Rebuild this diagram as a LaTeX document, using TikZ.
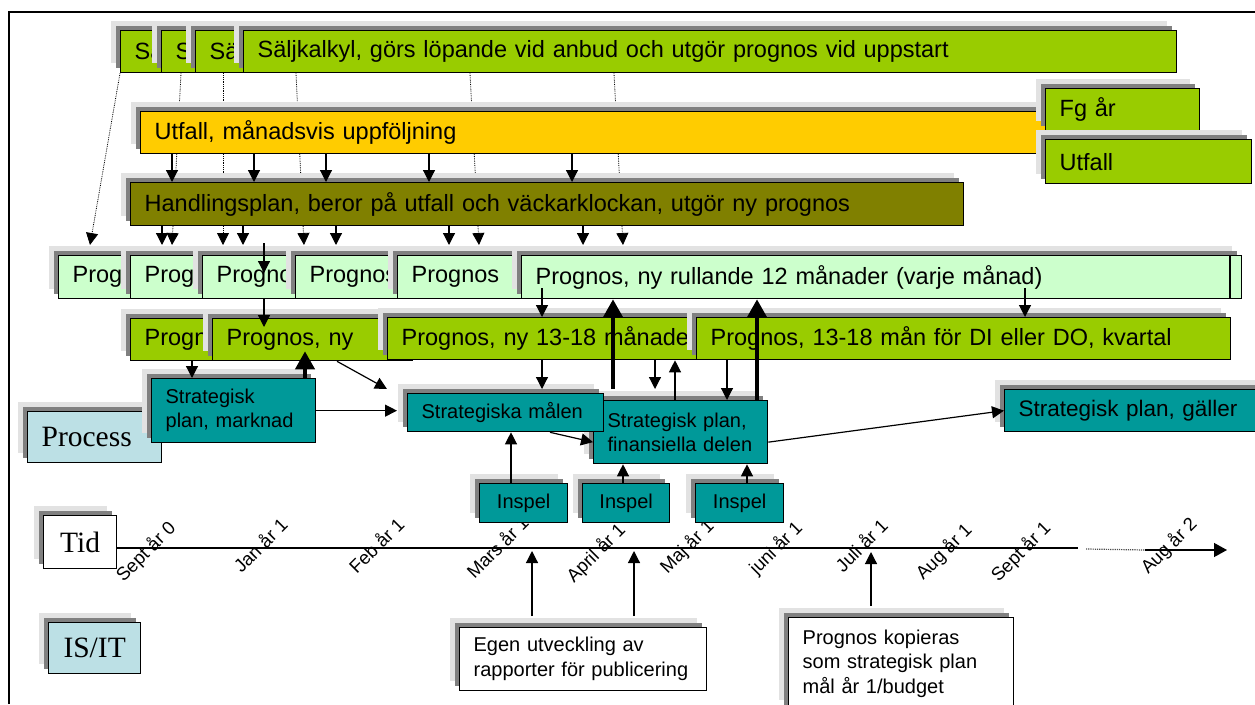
\documentclass[tikz,border=0pt]{standalone}
\usepackage{fontspec}
\setmainfont{Liberation Sans}
\newfontfamily\serifface{Liberation Serif}
\usetikzlibrary{arrows.meta,shadows,calc}
\pgfdeclarelayer{back}
\pgfsetlayers{back,main}

\definecolor{cgreen}{HTML}{99CC00}
\definecolor{corange}{HTML}{FFCC00}
\definecolor{colive}{HTML}{808000}
\definecolor{cpale}{HTML}{CCFFCC}
\definecolor{cteal}{HTML}{009999}
\definecolor{cblue}{HTML}{BCE0E5}
\definecolor{shadedark}{HTML}{808080}
\definecolor{shadelight}{HTML}{E2E2E2}

\newcommand\fontA{\fontsize{23.5}{28}\selectfont}
\newcommand\fontB{\fontsize{20}{24}\selectfont}
\newcommand\fontC{\fontsize{18.5}{22}\selectfont}
\newcommand\fontD{\fontsize{22.5}{27}\selectfont}
\newcommand\fontS{\serifface\fontsize{29.5}{34}\selectfont}

\begin{document}
\begin{tikzpicture}[x=1pt,y=-1pt,
  twoshadows/.style={
    general shadow={fill=shadelight, draw=none, opacity=1, shadow xshift=-10pt, shadow yshift=10pt},
    general shadow={fill=shadedark, draw=none, opacity=1, shadow xshift=-5pt, shadow yshift=5pt}},
  box/.style={twoshadows, draw=black, line width=1.3pt, anchor=north west,
    inner xsep=14pt, inner ysep=0pt, align=left, text=black},
  bigbox/.style={box, font=\fontA, minimum height=43pt},
  smallbox/.style={box, font=\fontB},
  labelbox/.style={box, font=\fontS, align=center, inner xsep=10pt},
  arr/.style={-{Triangle[length=12pt,width=12pt]}, line width=1.2pt},
  tarr/.style={-{Triangle[length=18pt,width=19pt]}, line width=4pt},
  darr/.style={densely dotted, line width=0.8pt, -{Triangle[length=12pt,width=12pt]}},
  tlab/.style={rotate=45, font=\fontC, inner sep=0pt, text height=13pt, text depth=4pt}
]
\useasboundingbox (0,0) rectangle (1255,704);

% outer frame
\draw[line width=1.3pt] (9,704) -- (9,12) -- (1255,12);

% sales calculation row (each new box overlaps the previous one)
\node[bigbox, fill=cgreen, text width=1022pt, minimum height=42pt] (s1) at (120,30) {Sä};
\node[bigbox, fill=cgreen, text width=977pt, minimum height=42pt] (s2) at (161,30) {Sä};
\node[bigbox, fill=cgreen, text width=942pt, minimum height=42pt] (s3) at (195,30) {Sä};
\node[bigbox, fill=cgreen, text width=905pt, minimum height=42pt] (s4) at (243,30) {Säljkalkyl, görs löpande vid anbud och utgör prognos vid uppstart};

% outcome
\node[bigbox, fill=corange, text width=932pt, minimum height=42pt] (ut) at (140,111) {Utfall, månadsvis uppföljning};
\node[bigbox, fill=cgreen, text width=126pt, minimum height=42pt] (fg) at (1045,88) {Fg år};
\node[bigbox, fill=cgreen, text width=178pt, minimum height=44pt] (us) at (1045,139) {Utfall};

% action plan
\node[bigbox, fill=colive, text width=805pt] (hp) at (130,182) {Handlingsplan, beror på utfall och väckarklockan, utgör ny prognos};

% forecast row
\node[bigbox, fill=cpale, text width=112pt] (pa) at (58,255) {Prog};
\node[bigbox, fill=cpale, text width=112pt] (pb) at (130,255) {Prog};
\node[bigbox, fill=cpale, text width=112pt] (pc) at (202,255) {Prognos};
\node[bigbox, fill=cpale, text width=112pt] (pd) at (295,255) {Prognos};
\node[bigbox, fill=cpale, text width=112pt] (pe) at (397,255) {Prognos};
\node[bigbox, fill=cpale, text width=692pt] (pf) at (521,255) {Prognos, ny rullande 12 månader (varje månad)};
\draw[line width=1.3pt] (1230,0 |- pf.north) -- (1230,0 |- pf.south);

% new forecast row
\node[bigbox, fill=cgreen, text width=172pt, minimum height=42pt] (ga) at (130,318) {Progn};
\node[bigbox, fill=cgreen, text width=172pt, minimum height=42pt] (gh) at (212,318) {Prognos, ny};
\node[bigbox, fill=cgreen, text width=372pt, minimum height=42pt] (gi) at (387,317) {Prognos, ny 13-18 månader};
\node[bigbox, fill=cgreen, text width=506pt, minimum height=42pt] (gj) at (696,317) {Prognos, 13-18 mån för DI eller DO, kvartal};

% time axis points
\coordinate (t1) at (1078,548);
\coordinate (t2) at (1086,549);
\coordinate (t3) at (1145,550);
\coordinate (t4) at (1227,550);

% process lane
\node[labelbox, fill=cblue, align=left, inner xsep=14pt, text width=106pt, minimum height=51pt] (proc) at (27,411) {Process};
\node[smallbox, fill=cteal, text width=136pt, minimum height=64pt] (spm) at (151,378) {Strategisk\\plan, marknad};
\node[smallbox, fill=cteal, text width=146pt, minimum height=63pt] (sf) at (593,400) {Strategisk plan,\\finansiella delen};
\node[smallbox, fill=cteal, text width=168pt, minimum height=38pt] (sm) at (407,393) {Strategiska målen};
\node[smallbox, fill=cteal, font=\fontD, text width=242pt, minimum height=42pt] (sg) at (1004,389) {Strategisk plan, gäller};
\node[smallbox, fill=cteal, align=center, text width=60pt, minimum height=39pt] (in1) at (479,483) {Inspel};
\node[smallbox, fill=cteal, align=center, text width=59pt, minimum height=39pt] (in2) at (582,483) {Inspel};
\node[smallbox, fill=cteal, align=center, text width=60pt, minimum height=39pt] (in3) at (695,483) {Inspel};

% time and IS/IT lanes
\node[labelbox, fill=white, text width=53pt, minimum height=53pt] (tid) at (43,515) {Tid};
\node[labelbox, fill=cblue, text width=72pt, minimum height=51pt] (isit) at (48,622) {IS/IT};
\node[smallbox, fill=white, text width=219pt, minimum height=63pt, font=\fontsize{20}{25}\selectfont] (egen) at (459,627) {Egen utveckling av\\rapporter för publicering};
\node[smallbox, fill=white, text width=197pt, minimum height=92pt, font=\fontsize{20}{24.5}\selectfont] (kop) at (788,617) {Prognos kopieras\\som strategisk plan\\mål år 1/budget};

\begin{pgfonlayer}{back}
  % dotted links from the sales calculations
  \draw[darr] (s1.south west) -- ($(90,0 |- pa.north)+(0,-10)$);
  \draw[darr] (181,0 |- s2.south) -- ($(172,0 |- pb.north)+(0,-10)$);
  \draw[darr] (223,0 |- s3.south) -- ($(223,0 |- pc.north)+(0,-10)$);
  \draw[darr] (296,0 |- s4.south) -- ($(304,0 |- pd.north)+(0,-10)$);
  \draw[darr] (470,0 |- s4.south) -- ($(479,0 |- pe.north)+(0,-10)$);
  \draw[darr] (614,0 |- s4.south) -- ($(623,0 |- pf.north)+(0,-10)$);
  % time axis with month labels
  \draw[line width=1.2pt] (tid.east |- t1) -- (t1);
  \draw[densely dotted, line width=1.2pt, draw=black!70] (t2) -- (t3);
  \draw[line width=1.3pt, -{Triangle[length=13pt,width=14pt]}] (t3) -- (t4);
  \node[tlab] (m0) at (147,553) {Sept år 0};
  \node[tlab] (m1) at (262,547) {Jan år 1};
  \node[tlab] (m2) at (378,547) {Feb år 1};
  \node[tlab] (m3) at (499,549) {Mars år 1};
  \node[tlab] (m4) at (597,554) {April år 1};
  \node[tlab] (m5) at (688,548) {Maj år 1};
  \node[tlab] (m6) at (777,549) {juni år 1};
  \node[tlab] (m7) at (863,547) {Juli år 1};
  \node[tlab] (m8) at (945,553) {Aug år 1};
  \node[tlab] (m9) at (1022,553) {Sept år 1};
  \node[tlab] (m10) at (1170,547) {Aug år 2};
\end{pgfonlayer}

% outcome to action plan
\foreach \x in {172,254,326,429,572}
  \draw[arr] (\x,0 |- ut.south) -- (\x,0 |- hp.north);
% action plan to forecasts
\foreach \x in {162,243,336,449,583}
  \draw[arr] (\x,0 |- hp.south) -- ($(\x,0 |- pb.north)+(0,-10)$);
\draw[arr] ($(264,0 |- pc.north)+(0,-12)$) -- ($(264,0 |- pc.north)+(0,18)$);
\draw[arr] (264,0 |- pc.south) -- ($(264,0 |- gh.north)+(0,9)$);
\draw[arr] (192,0 |- ga.south) -- (192,0 |- spm.north);
\draw[tarr] (305,0 |- spm.north) -- ($(305,0 |- gh.south)+(0,-10)$);
\draw[arr] (337,0 |- gh.south) -- ($(sm.north west)+(-20,-4)$);
\draw[arr] (spm.east) -- ($(spm.east -| sm.west)+(-10,0)$);
\draw[arr] ($(542,0 |- pf.south)+(0,-11)$) -- (542,0 |- gi.north);
\draw[arr] (542,0 |- gi.south) -- ($(542,0 |- sm.north)+(0,-4)$);
\draw[tarr] ($(613,0 |- sf.north)+(0,-11)$) -- (613,0 |- pf.south);
\draw[arr] (655,0 |- gi.south) -- ($(655,0 |- sf.north)+(0,-11)$);
\draw[arr] (675,0 |- sf.north) -- (675,0 |- gi.south);
\draw[arr] (727,0 |- gj.south) -- (727,0 |- sf.north);
\draw[tarr] (757,0 |- sf.north) -- (757,0 |- pf.south);
\draw[arr] ($(1025,0 |- pf.south)+(0,-11)$) -- (1025,0 |- gj.north);
\draw[arr] (550,0 |- sm.south) -- ($(sf.west)+(0,10)$);
\draw[arr] (511,0 |- in1.north) -- (511,0 |- sm.south);
\draw[arr] (623,0 |- in2.north) -- (623,0 |- sf.south);
\draw[arr] (747,0 |- in3.north) -- (747,0 |- sf.south);
\draw[arr] ($(sf.east)+(0,10)$) -- (sg.west);
% IS/IT notes pointing at the time axis
\draw[arr] ($(532,0 |- egen.north)+(0,-11)$) -- ($(532,0 |- t1)+(0,3)$);
\draw[arr] ($(634,0 |- egen.north)+(0,-11)$) -- ($(634,0 |- t1)+(0,3)$);
\draw[arr] ($(871,0 |- kop.north)+(0,-11)$) -- ($(871,0 |- t1)+(0,4)$);
\end{tikzpicture}
\end{document}
